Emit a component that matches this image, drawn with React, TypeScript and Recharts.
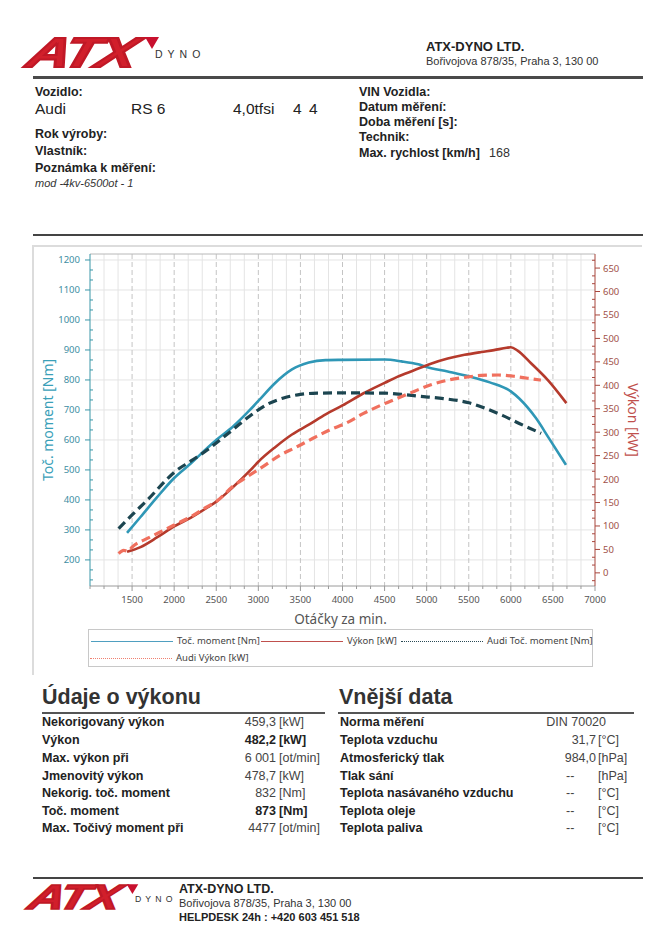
import React from "react";
import { LineChart, Line, XAxis, YAxis, CartesianGrid, ReferenceLine } from "recharts";

// curves
const torqueRpm = [1440, 1600, 1800, 2000, 2200, 2400, 2500, 2700, 2900, 3000, 3200, 3400, 3600, 3800, 4000, 4500, 4700, 4900, 5000, 5250, 5500, 5750, 6000, 6100, 6300, 6450, 6655];
const torqueNm = [290, 343, 410, 473, 522, 575, 600, 645, 700, 730, 790, 835, 858, 866, 867, 868, 862, 852, 843, 828, 812, 792, 762, 738, 672, 607, 517];

const powerRpm = [1440, 1600, 1800, 2000, 2200, 2400, 2500, 2700, 2900, 3000, 3200, 3400, 3600, 3800, 4000, 4250, 4500, 4650, 4850, 5050, 5250, 5450, 5650, 5800, 5950, 6000, 6080, 6240, 6440, 6660];
const powerKw = [45, 55, 76, 99, 118, 140, 152, 183, 218, 237, 268, 295, 316, 338, 357, 383, 405, 418, 432, 446, 457, 465, 471, 475, 480, 481, 474, 447, 411, 362];

const audiTorqueRpm = [1340, 1500, 1700, 1900, 2000, 2200, 2400, 2500, 2700, 2900, 3100, 3300, 3500, 3700, 4000, 4500, 4700, 4900, 5200, 5500, 5700, 5900, 6100, 6360];
const audiTorqueNm = [304, 350, 405, 465, 492, 530, 568, 590, 635, 680, 718, 740, 752, 756, 757, 756, 752, 746, 738, 724, 705, 682, 655, 622];

const audiPowerRpm = [1340, 1400, 1450, 1500, 1700, 1900, 2000, 2200, 2400, 2500, 2700, 2850, 3050, 3250, 3450, 3650, 3850, 4050, 4250, 4450, 4650, 4850, 5050, 5250, 5450, 5650, 5850, 6050, 6200, 6357];
const audiPowerKw = [41, 48, 46, 55, 75, 93, 102, 120, 142, 152, 185, 203, 226, 250, 268, 287, 305, 320, 340, 357, 372, 387, 401, 411, 417, 421, 422, 419, 415, 411];

const rpmTicks = [1500, 2000, 2500, 3000, 3500, 4000, 4500, 5000, 5500, 6000, 6500, 7000];
const torqueTicks = [200, 300, 400, 500, 600, 700, 800, 900, 1000, 1100, 1200];
const powerTicks = [0, 50, 100, 150, 200, 250, 300, 350, 400, 450, 500, 550, 600, 650];

const perfLabels = ["Nekorigovaný výkon", "Výkon", "Max. výkon při", "Jmenovitý výkon", "Nekorig. toč. moment", "Toč. moment", "Max. Točivý moment při"];
const perfValues = ["459,3", "482,2", "6 001", "478,7", "832", "873", "4477"];
const perfUnits = ["[kW]", "[kW]", "[ot/min]", "[kW]", "[Nm]", "[Nm]", "[ot/min]"];
const perfBold = [false, true, false, false, false, true, false];

const extLabels = ["Norma měření", "Teplota vzduchu", "Atmosferický tlak", "Tlak sání", "Teplota nasávaného vzduchu", "Teplota oleje", "Teplota paliva"];
const extValues = ["DIN 70020", "31,7", "984,0", "--", "--", "--", "--"];
const extUnits = ["", "[°C]", "[hPa]", "[hPa]", "[°C]", "[°C]", "[°C]"];

const rowY = [722, 740, 758, 776, 793, 811, 828];

const X_DOMAIN = [1000, 7000];
const L_DOMAIN = [113, 1220];
const R_DOMAIN = [-28, 680];

const C_TORQUE = "#2f97b6";
const C_POWER = "#b53a2c";
const C_AUDI_T = "#1c4550";
const C_AUDI_P = "#f0705e";

const zip = (xs: number[], ys: number[]) => xs.map((rpm, i) => ({ rpm, v: ys[i] }));

// majors plus 2 minor steps between each
function allTicks(majors: number[], lo: number, hi: number, parts = 3) {
  const step = (majors[1] - majors[0]) / parts;
  const out: number[] = [];
  let k = Math.ceil((lo - majors[0]) / step - 1e-6);
  for (; majors[0] + k * step <= hi + 1e-6; k++) out.push(Math.round((majors[0] + k * step) * 1000) / 1000);
  return out;
}
const isIn = (arr: number[], v: number) => arr.some((m) => Math.abs(m - v) < 0.01);

const xAll = allTicks(rpmTicks, X_DOMAIN[0], X_DOMAIN[1]);
const lAll = allTicks(torqueTicks, L_DOMAIN[0], L_DOMAIN[1]);
const rAll = allTicks(powerTicks, R_DOMAIN[0], R_DOMAIN[1]);
const xMinorOnly = xAll.filter((v) => !isIn(rpmTicks, v) && v > X_DOMAIN[0]);
const xMajorGrid = rpmTicks.filter((v) => v < X_DOMAIN[1]);

const sc = (axis: any, v: number) =>
  typeof axis?.scale === "function" ? axis.scale(v) : axis?.scale?.map ? axis.scale.map(v) : 0;

const tickFont = { fontFamily: "'Noto Sans', sans-serif", fontSize: 9.5 };

function makeTick(majors: number[], side: "left" | "right" | "bottom", axisColor: string, textColor: string) {
  return (props: any) => {
    const { x, y, payload } = props;
    const v = payload.value;
    const major = isIn(majors, v);
    if (side === "left") {
      return (
        <g>
          {major ? <line x1={x - 5} x2={x} y1={y} y2={y} stroke={axisColor} /> : <line x1={x} x2={x + 3} y1={y} y2={y} stroke={axisColor} />}
          {major && <text x={x - 10} y={y + 3.5} textAnchor="end" fill={textColor} style={tickFont}>{v}</text>}
        </g>
      );
    }
    if (side === "right") {
      return (
        <g>
          {major ? <line x1={x} x2={x + 5} y1={y} y2={y} stroke={axisColor} /> : <line x1={x - 3} x2={x} y1={y} y2={y} stroke={axisColor} />}
          {major && <text x={x + 8} y={y + 3.5} textAnchor="start" fill={textColor} style={tickFont}>{v}</text>}
        </g>
      );
    }
    return (
      <g>
        <line x1={x} x2={x} y1={y} y2={y + (major ? 5 : 3)} stroke={axisColor} />
        {major && <text x={x} y={y + 17} textAnchor="middle" fill={textColor} style={tickFont}>{v}</text>}
      </g>
    );
  };
}

function DynoChart() {
  return (
    <LineChart width={611} height={400} margin={{ top: 9, right: 8, bottom: 9, left: 18 }}>
      <CartesianGrid
        yAxisId="left"
        stroke="#e4e4e4"
        horizontalCoordinatesGenerator={({ yAxis }: any) => torqueTicks.map((v) => sc(yAxis, v))}
        verticalCoordinatesGenerator={({ xAxis }: any) => xMinorOnly.map((v) => sc(xAxis, v))}
      />
      <CartesianGrid
        yAxisId="left"
        horizontal={false}
        stroke="#c4c4c4"
        strokeDasharray="5 3"
        verticalCoordinatesGenerator={({ xAxis }: any) => xMajorGrid.map((v) => sc(xAxis, v))}
      />
      <ReferenceLine yAxisId="left" y={L_DOMAIN[1]} stroke="#b8b8b8" />
      <XAxis
        type="number"
        dataKey="rpm"
        domain={X_DOMAIN}
        allowDataOverflow
        ticks={xAll}
        interval={0}
        height={50}
        stroke="#9a9a9a"
        tickLine={false}
        tickSize={0}
        tickMargin={0}
        tick={makeTick(rpmTicks, "bottom", "#9a9a9a", "#555")}
        label={(p: any) => {
          const vb = p.viewBox;
          return (
            <text x={vb.x + vb.width / 2 - 2} y={vb.y + 38} textAnchor="middle" fill="#555" style={{ fontFamily: "'Noto Sans', sans-serif", fontSize: 13.5 }}>
              Otáčky za min.
            </text>
          );
        }}
      />
      <YAxis
        yAxisId="left"
        orientation="left"
        domain={L_DOMAIN}
        allowDataOverflow
        ticks={lAll}
        interval={0}
        width={40}
        stroke="#3a97a8"
        tickLine={false}
        tickSize={0}
        tickMargin={0}
        tick={makeTick(torqueTicks, "left", "#3a97a8", "#3d8ea3")}
        label={(p: any) => {
          const vb = p.viewBox;
          const cx = vb.x - 3;
          const cy = vb.y + vb.height / 2;
          return (
            <text x={cx} y={cy} transform={`rotate(-90 ${cx} ${cy})`} textAnchor="middle" dominantBaseline="central" fill="#3aa0b8" style={{ fontFamily: "'Noto Sans', sans-serif", fontSize: 14 }}>
              Toč. moment [Nm]
            </text>
          );
        }}
      />
      <YAxis
        yAxisId="right"
        orientation="right"
        domain={R_DOMAIN}
        allowDataOverflow
        ticks={rAll}
        interval={0}
        width={40}
        stroke="#a8463c"
        tickLine={false}
        tickSize={0}
        tickMargin={0}
        tick={makeTick(powerTicks, "right", "#a8463c", "#a05048")}
        label={(p: any) => {
          const vb = p.viewBox;
          const cx = vb.x + 38;
          const cy = vb.y + vb.height / 2;
          return (
            <text x={cx} y={cy} transform={`rotate(90 ${cx} ${cy})`} textAnchor="middle" dominantBaseline="central" fill="#c0504d" style={{ fontFamily: "'Noto Sans', sans-serif", fontSize: 14 }}>
              Výkon [kW]
            </text>
          );
        }}
      />
      <Line data={zip(torqueRpm, torqueNm)} dataKey="v" yAxisId="left" type="monotone" stroke={C_TORQUE} strokeWidth={2.6} dot={false} isAnimationActive={false} />
      <Line data={zip(powerRpm, powerKw)} dataKey="v" yAxisId="right" type="monotone" stroke={C_POWER} strokeWidth={2.6} dot={false} isAnimationActive={false} />
      <Line data={zip(audiTorqueRpm, audiTorqueNm)} dataKey="v" yAxisId="left" type="monotone" stroke={C_AUDI_T} strokeWidth={3.2} strokeDasharray="9 5" dot={false} isAnimationActive={false} />
      <Line data={zip(audiPowerRpm, audiPowerKw)} dataKey="v" yAxisId="right" type="monotone" stroke={C_AUDI_P} strokeWidth={3.2} strokeDasharray="9 5" dot={false} isAnimationActive={false} />
    </LineChart>
  );
}

const legendItems = [
  { name: "Toč. moment [Nm]", color: "#4f9fc0", dotted: false, x: 91, y: 641 },
  { name: "Výkon [kW]", color: "#c0504d", dotted: false, x: 261, y: 641 },
  { name: "Audi Toč. moment [Nm]", color: "#2a4a55", dotted: true, x: 401, y: 641 },
  { name: "Audi Výkon [kW]", color: "#f08070", dotted: true, x: 90, y: 658 },
];

function T(props: { x: number; y: number; size?: number; bold?: boolean; italic?: boolean; color?: string; right?: boolean; children: React.ReactNode }) {
  const size = props.size ?? 12.5;
  const style: React.CSSProperties = {
    position: "absolute",
    top: props.y - size * 0.6,
    fontSize: size,
    lineHeight: `${size * 1.2}px`,
    fontWeight: props.bold ? 700 : 400,
    fontStyle: props.italic ? "italic" : "normal",
    color: props.color ?? "#222",
    whiteSpace: "pre",
  };
  if (props.right) style.right = 671 - props.x;
  else style.left = props.x;
  return <div style={style}>{props.children}</div>;
}

function Logo({ x, y, s }: { x: number; y: number; s: number }) {
  return (
    <div style={{ position: "absolute", left: x, top: y, width: 180, height: 40, transform: `scale(${s})`, transformOrigin: "0 0" }}>
      <div
        style={{
          position: "absolute",
          left: 4,
          top: 0,
          fontSize: 42,
          lineHeight: "42px",
          fontWeight: 900,
          fontStyle: "italic",
          letterSpacing: -2,
          color: "#d11f2b",
          WebkitTextStroke: "2px #c01826",
          transform: "scaleX(1.42) skewX(-12deg)",
          transformOrigin: "0 0",
        }}
      >
        ATX
      </div>
      <div style={{ position: "absolute", left: 114, top: 5, width: 0, height: 0, borderLeft: "7px solid transparent", borderRight: "7px solid transparent", borderTop: "12px solid #c8102e" }} />
      <div style={{ position: "absolute", left: 124, top: 16, fontSize: 10.5, letterSpacing: 5, color: "#333" }}>DYNO</div>
    </div>
  );
}

export default function App() {
  return (
    <div style={{ position: "absolute", left: 0, top: 0, width: 671, height: 949, background: "#fff", fontFamily: "'Liberation Sans', Arial, sans-serif", overflow: "hidden" }}>
      {/* header */}
      <Logo x={31} y={32} s={1} />
      <T x={426} y={47} size={13} bold>ATX-DYNO LTD.</T>
      <T x={426} y={62} size={11} color="#333">Bořivojova 878/35, Praha 3, 130 00</T>
      <div style={{ position: "absolute", left: 33, top: 76, width: 610, height: 3, background: "#4a4a4a" }} />

      {/* vehicle block */}
      <T x={35} y={92} size={12.5} bold>Vozidlo:</T>
      <T x={35} y={109} size={15.5} color="#222">Audi</T>
      <T x={131} y={109} size={15.5} color="#222">RS 6</T>
      <T x={233} y={109} size={15.5} color="#222">4,0tfsi</T>
      <T x={293} y={109} size={15.5} color="#222">4</T>
      <T x={309} y={109} size={15.5} color="#222">4</T>
      <T x={35} y={134} size={12.5} bold>Rok výroby:</T>
      <T x={35} y={151} size={12.5} bold>Vlastník:</T>
      <T x={35} y={168} size={12.5} bold>Poznámka k měření:</T>
      <T x={35} y={184} size={11} italic color="#333">mod -4kv-6500ot - 1</T>
      <T x={359} y={92} size={12.5} bold>VIN Vozidla:</T>
      <T x={359} y={107} size={12.5} bold>Datum měření:</T>
      <T x={359} y={122} size={12.5} bold>Doba měření [s]:</T>
      <T x={359} y={137} size={12.5} bold>Technik:</T>
      <T x={359} y={153} size={12.5} bold>Max. rychlost [km/h]</T>
      <T x={489} y={153} size={12.5} color="#333">168</T>

      <div style={{ position: "absolute", left: 33, top: 234, width: 610, height: 2, background: "#444" }} />

      {/* chart panel */}
      <div style={{ position: "absolute", left: 32, top: 245, width: 610, height: 430, borderTop: "2px solid #dcdcdc", borderLeft: "2px solid #dcdcdc", boxSizing: "border-box" }} />
      <div style={{ position: "absolute", left: 32, top: 245 }}>
        <DynoChart />
      </div>

      {/* legend */}
      <div style={{ position: "absolute", left: 88, top: 629, width: 505, height: 38, border: "1px solid #c8c8c8", boxSizing: "border-box" }} />
      {legendItems.map((it) => (
        <React.Fragment key={it.name}>
          <div style={{ position: "absolute", left: it.x, top: it.y, width: 82, height: 0, borderTop: `1px ${it.dotted ? "dotted" : "solid"} ${it.color}` }} />
          <div style={{ position: "absolute", left: it.x + 86, top: it.y - 7, fontFamily: "'Noto Sans', sans-serif", fontSize: 9.5, lineHeight: "13px", color: "#444", whiteSpace: "pre" }}>{it.name}</div>
        </React.Fragment>
      ))}

      {/* performance table */}
      <T x={42} y={698} size={21.5} bold color="#333">Údaje o výkonu</T>
      <div style={{ position: "absolute", left: 42, top: 712, width: 283, height: 2, background: "#555" }} />
      {perfLabels.map((l, i) => (
        <React.Fragment key={l}>
          <T x={42} y={rowY[i]} size={12.5} bold>{l}</T>
          <T x={276} y={rowY[i]} size={12.5} right bold={perfBold[i]} color={perfBold[i] ? "#222" : "#444"}>{perfValues[i]}</T>
          <T x={279} y={rowY[i]} size={12.5} bold={perfBold[i]} color={perfBold[i] ? "#222" : "#444"}>{perfUnits[i]}</T>
        </React.Fragment>
      ))}

      {/* ambient table */}
      <T x={339} y={698} size={21.5} bold color="#333">Vnější data</T>
      <div style={{ position: "absolute", left: 338, top: 712, width: 296, height: 2, background: "#555" }} />
      {extLabels.map((l, i) => (
        <React.Fragment key={l}>
          <T x={340} y={rowY[i]} size={12.5} bold>{l}</T>
          {extValues[i] === "--" ? (
            <T x={566} y={rowY[i]} size={12.5} color="#444">--</T>
          ) : (
            <T x={extUnits[i] ? 596 : 606} y={rowY[i]} size={12.5} right color="#444">{extValues[i]}</T>
          )}
          {extUnits[i] && <T x={598} y={rowY[i]} size={12.5} color="#444">{extUnits[i]}</T>}
        </React.Fragment>
      ))}

      {/* footer */}
      <div style={{ position: "absolute", left: 33, top: 877, width: 610, height: 2, background: "#444" }} />
      <Logo x={32} y={880} s={0.83} />
      <T x={179} y={889} size={12.5} bold>ATX-DYNO LTD.</T>
      <T x={179} y={904} size={11} color="#333">Bořivojova 878/35, Praha 3, 130 00</T>
      <T x={179} y={918} size={11} bold>HELPDESK 24h : +420 603 451 518</T>
    </div>
  );
}
